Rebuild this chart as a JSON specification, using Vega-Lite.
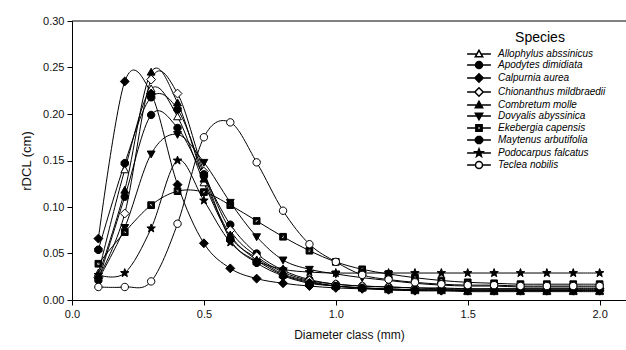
{
  "$schema": "https://vega.github.io/schema/vega-lite/v6.json",
  "width": 554,
  "height": 279,
  "autosize": {"type": "none"},
  "padding": {"left": 72, "top": 21, "right": 0, "bottom": 50},
  "config": {
    "view": {"stroke": null},
    "font": "Liberation Sans",
    "axis": {"grid": false, "domainColor": "#000", "tickColor": "#000", "labelColor": "#111", "titleColor": "#111", "labelFont": "Liberation Sans", "titleFont": "Liberation Sans", "titleFontWeight": "normal", "labelFontSize": 11, "titleFontSize": 12, "tickSize": 5, "domainWidth": 1, "tickWidth": 1, "labelFlush": false},
    "legend": {
      "orient": "none",
      "legendX": 402,
      "legendY": 10,
      "padding": 0,
      "titleFont": "Liberation Sans",
      "titleFontSize": 14,
      "titleFontWeight": "normal",
      "titleColor": "#000",
      "titleAnchor": "middle",
      "titlePadding": 4,
      "labelFont": "Liberation Sans",
      "labelFontSize": 10,
      "labelFontStyle": "italic",
      "labelColor": "#000",
      "labelOffset": 14,
      "symbolSize": 49,
      "rowPadding": -2,
      "labelLimit": 300
    }
  },
  "layer": [
    {
      "data": {
        "values": [
          {"d": 0.1, "Allophylus abssinicus": 0.029, "Apodytes dimidiata": 0.021, "Calpurnia aurea": 0.066, "Chionanthus mildbraedii": 0.024, "Combretum molle": 0.026, "Dovyalis abyssinica": 0.022, "Ekebergia capensis": 0.039, "Maytenus arbutifolia": 0.054, "Podocarpus falcatus": 0.027, "Teclea nobilis": 0.014},
          {"d": 0.2, "Allophylus abssinicus": 0.140, "Apodytes dimidiata": 0.111, "Calpurnia aurea": 0.235, "Chionanthus mildbraedii": 0.093, "Combretum molle": 0.118, "Dovyalis abyssinica": 0.078, "Ekebergia capensis": 0.073, "Maytenus arbutifolia": 0.147, "Podocarpus falcatus": 0.029, "Teclea nobilis": 0.014},
          {"d": 0.3, "Allophylus abssinicus": 0.227, "Apodytes dimidiata": 0.199, "Calpurnia aurea": 0.222, "Chionanthus mildbraedii": 0.237, "Combretum molle": 0.245, "Dovyalis abyssinica": 0.157, "Ekebergia capensis": 0.102, "Maytenus arbutifolia": 0.218, "Podocarpus falcatus": 0.077, "Teclea nobilis": 0.020},
          {"d": 0.4, "Allophylus abssinicus": 0.197, "Apodytes dimidiata": 0.185, "Calpurnia aurea": 0.124, "Chionanthus mildbraedii": 0.222, "Combretum molle": 0.212, "Dovyalis abyssinica": 0.178, "Ekebergia capensis": 0.117, "Maytenus arbutifolia": 0.205, "Podocarpus falcatus": 0.150, "Teclea nobilis": 0.082},
          {"d": 0.5, "Allophylus abssinicus": 0.126, "Apodytes dimidiata": 0.133, "Calpurnia aurea": 0.061, "Chionanthus mildbraedii": 0.138, "Combretum molle": 0.130, "Dovyalis abyssinica": 0.148, "Ekebergia capensis": 0.116, "Maytenus arbutifolia": 0.135, "Podocarpus falcatus": 0.107, "Teclea nobilis": 0.175},
          {"d": 0.6, "Allophylus abssinicus": 0.068, "Apodytes dimidiata": 0.081, "Calpurnia aurea": 0.034, "Chionanthus mildbraedii": 0.075, "Combretum molle": 0.070, "Dovyalis abyssinica": 0.105, "Ekebergia capensis": 0.102, "Maytenus arbutifolia": 0.065, "Podocarpus falcatus": 0.062, "Teclea nobilis": 0.191},
          {"d": 0.7, "Allophylus abssinicus": 0.045, "Apodytes dimidiata": 0.050, "Calpurnia aurea": 0.023, "Chionanthus mildbraedii": 0.047, "Combretum molle": 0.043, "Dovyalis abyssinica": 0.068, "Ekebergia capensis": 0.085, "Maytenus arbutifolia": 0.040, "Podocarpus falcatus": 0.042, "Teclea nobilis": 0.148},
          {"d": 0.8, "Allophylus abssinicus": 0.028, "Apodytes dimidiata": 0.032, "Calpurnia aurea": 0.018, "Chionanthus mildbraedii": 0.030, "Combretum molle": 0.027, "Dovyalis abyssinica": 0.043, "Ekebergia capensis": 0.068, "Maytenus arbutifolia": 0.026, "Podocarpus falcatus": 0.033, "Teclea nobilis": 0.096},
          {"d": 0.9, "Allophylus abssinicus": 0.020, "Apodytes dimidiata": 0.022, "Calpurnia aurea": 0.015, "Chionanthus mildbraedii": 0.021, "Combretum molle": 0.019, "Dovyalis abyssinica": 0.033, "Ekebergia capensis": 0.053, "Maytenus arbutifolia": 0.018, "Podocarpus falcatus": 0.030, "Teclea nobilis": 0.060},
          {"d": 1.0, "Allophylus abssinicus": 0.015, "Apodytes dimidiata": 0.017, "Calpurnia aurea": 0.013, "Chionanthus mildbraedii": 0.017, "Combretum molle": 0.015, "Dovyalis abyssinica": 0.028, "Ekebergia capensis": 0.041, "Maytenus arbutifolia": 0.015, "Podocarpus falcatus": 0.029, "Teclea nobilis": 0.041},
          {"d": 1.1, "Allophylus abssinicus": 0.013, "Apodytes dimidiata": 0.015, "Calpurnia aurea": 0.012, "Chionanthus mildbraedii": 0.015, "Combretum molle": 0.013, "Dovyalis abyssinica": 0.024, "Ekebergia capensis": 0.033, "Maytenus arbutifolia": 0.013, "Podocarpus falcatus": 0.029, "Teclea nobilis": 0.027},
          {"d": 1.2, "Allophylus abssinicus": 0.011, "Apodytes dimidiata": 0.014, "Calpurnia aurea": 0.011, "Chionanthus mildbraedii": 0.014, "Combretum molle": 0.012, "Dovyalis abyssinica": 0.021, "Ekebergia capensis": 0.028, "Maytenus arbutifolia": 0.012, "Podocarpus falcatus": 0.029, "Teclea nobilis": 0.022},
          {"d": 1.3, "Allophylus abssinicus": 0.010, "Apodytes dimidiata": 0.013, "Calpurnia aurea": 0.010, "Chionanthus mildbraedii": 0.013, "Combretum molle": 0.011, "Dovyalis abyssinica": 0.018, "Ekebergia capensis": 0.024, "Maytenus arbutifolia": 0.011, "Podocarpus falcatus": 0.029, "Teclea nobilis": 0.019},
          {"d": 1.4, "Allophylus abssinicus": 0.010, "Apodytes dimidiata": 0.012, "Calpurnia aurea": 0.010, "Chionanthus mildbraedii": 0.013, "Combretum molle": 0.011, "Dovyalis abyssinica": 0.016, "Ekebergia capensis": 0.021, "Maytenus arbutifolia": 0.011, "Podocarpus falcatus": 0.029, "Teclea nobilis": 0.017},
          {"d": 1.5, "Allophylus abssinicus": 0.009, "Apodytes dimidiata": 0.012, "Calpurnia aurea": 0.010, "Chionanthus mildbraedii": 0.012, "Combretum molle": 0.010, "Dovyalis abyssinica": 0.015, "Ekebergia capensis": 0.019, "Maytenus arbutifolia": 0.011, "Podocarpus falcatus": 0.029, "Teclea nobilis": 0.016},
          {"d": 1.6, "Allophylus abssinicus": 0.009, "Apodytes dimidiata": 0.012, "Calpurnia aurea": 0.010, "Chionanthus mildbraedii": 0.012, "Combretum molle": 0.010, "Dovyalis abyssinica": 0.015, "Ekebergia capensis": 0.018, "Maytenus arbutifolia": 0.011, "Podocarpus falcatus": 0.029, "Teclea nobilis": 0.016},
          {"d": 1.7, "Allophylus abssinicus": 0.009, "Apodytes dimidiata": 0.012, "Calpurnia aurea": 0.010, "Chionanthus mildbraedii": 0.012, "Combretum molle": 0.010, "Dovyalis abyssinica": 0.014, "Ekebergia capensis": 0.017, "Maytenus arbutifolia": 0.011, "Podocarpus falcatus": 0.029, "Teclea nobilis": 0.015},
          {"d": 1.8, "Allophylus abssinicus": 0.009, "Apodytes dimidiata": 0.012, "Calpurnia aurea": 0.010, "Chionanthus mildbraedii": 0.012, "Combretum molle": 0.010, "Dovyalis abyssinica": 0.014, "Ekebergia capensis": 0.017, "Maytenus arbutifolia": 0.011, "Podocarpus falcatus": 0.029, "Teclea nobilis": 0.015},
          {"d": 1.9, "Allophylus abssinicus": 0.009, "Apodytes dimidiata": 0.012, "Calpurnia aurea": 0.010, "Chionanthus mildbraedii": 0.012, "Combretum molle": 0.010, "Dovyalis abyssinica": 0.014, "Ekebergia capensis": 0.017, "Maytenus arbutifolia": 0.011, "Podocarpus falcatus": 0.029, "Teclea nobilis": 0.015},
          {"d": 2.0, "Allophylus abssinicus": 0.009, "Apodytes dimidiata": 0.012, "Calpurnia aurea": 0.010, "Chionanthus mildbraedii": 0.012, "Combretum molle": 0.010, "Dovyalis abyssinica": 0.014, "Ekebergia capensis": 0.017, "Maytenus arbutifolia": 0.011, "Podocarpus falcatus": 0.029, "Teclea nobilis": 0.015}
        ]
      },
      "transform": [
        {"fold": ["Allophylus abssinicus", "Apodytes dimidiata", "Calpurnia aurea", "Chionanthus mildbraedii", "Combretum molle", "Dovyalis abyssinica", "Ekebergia capensis", "Maytenus arbutifolia", "Podocarpus falcatus", "Teclea nobilis"], "as": ["species", "rdcl"]}
      ],
      "encoding": {
        "x": {"field": "d", "type": "quantitative", "scale": {"domain": [0, 2.1], "nice": false, "zero": true},
          "axis": {"values": [0, 0.5, 1, 1.5, 2], "format": ".1f", "title": "Diameter class (mm)", "labelPadding": 3, "titlePadding": 10}},
        "y": {"field": "rdcl", "type": "quantitative", "scale": {"domain": [0, 0.3], "nice": false},
          "axis": {"values": [0, 0.05, 0.1, 0.15, 0.2, 0.25, 0.3], "format": ".2f", "title": "rDCL (cm)", "titleFontSize": 13, "labelPadding": 3, "titlePadding": 9}}
      },
      "resolve": {"scale": {"shape": "independent", "fill": "independent"}},
      "layer": [
        {
          "mark": {"type": "line", "interpolate": "cardinal", "stroke": "#000", "strokeWidth": 1},
          "encoding": {"detail": {"field": "species"}}
        },
        {
          "mark": {"type": "point", "filled": true, "stroke": "#000", "strokeWidth": 1, "size": 55, "opacity": 1},
          "encoding": {
            "shape": {"field": "species", "type": "nominal",
              "scale": {
                "domain": ["Allophylus abssinicus", "Apodytes dimidiata", "Calpurnia aurea", "Chionanthus mildbraedii", "Combretum molle", "Dovyalis abyssinica", "Ekebergia capensis", "Maytenus arbutifolia", "Podocarpus falcatus", "Teclea nobilis"],
                "range": [
                  "M0,-1.05L1.05,0.8L-1.05,0.8Z",
                  "M1,0A1,1,0,1,1,-1,0A1,1,0,1,1,1,0Z",
                  "M0,-1.2L1.2,0L0,1.2L-1.2,0Z",
                  "M0,-1.2L1.2,0L0,1.2L-1.2,0Z",
                  "M0,-1.05L1.05,0.8L-1.05,0.8Z",
                  "M0,1.05L1.05,-0.8L-1.05,-0.8Z",
                  "M-0.9,-0.9H0.9V0.9H-0.9Z M-0.4,-0.4V0.4H0.4V-0.4Z",
                  "M-0.41,-1H0.41L1,-0.41V0.41L0.41,1H-0.41L-1,0.41V-0.41Z",
                  "M0,-1.2L0.294,-0.405L1.141,-0.371L0.476,0.155L0.705,0.971L0,0.5L-0.705,0.971L-0.476,0.155L-1.141,-0.371L-0.294,-0.405Z",
                  "M1,0A1,1,0,1,1,-1,0A1,1,0,1,1,1,0Z"
                ]
              },
              "legend": null
            },
            "fill": {"field": "species", "type": "nominal",
              "scale": {
                "domain": ["Allophylus abssinicus", "Apodytes dimidiata", "Calpurnia aurea", "Chionanthus mildbraedii", "Combretum molle", "Dovyalis abyssinica", "Ekebergia capensis", "Maytenus arbutifolia", "Podocarpus falcatus", "Teclea nobilis"],
                "range": ["#fff", "#000", "#000", "#fff", "#000", "#000", "#000", "#000", "#000", "#fff"]
              },
              "legend": null
            }
          }
        },
        {
          "transform": [{"filter": "datum.d > 5"}],
          "mark": {"type": "point", "filled": true, "stroke": "#000", "strokeWidth": 1, "size": 49, "opacity": 1},
          "encoding": {
            "shape": {"field": "species", "type": "nominal",
              "scale": {
                "domain": ["Allophylus abssinicus", "Apodytes dimidiata", "Calpurnia aurea", "Chionanthus mildbraedii", "Combretum molle", "Dovyalis abyssinica", "Ekebergia capensis", "Maytenus arbutifolia", "Podocarpus falcatus", "Teclea nobilis"],
                "range": [
                  "M-3.4,0H-0.8M0.8,0H3.4M0,-1.05L1.05,0.8L-1.05,0.8Z",
                  "M-3.4,0H-1M1,0H3.4M1,0A1,1,0,1,1,-1,0A1,1,0,1,1,1,0Z",
                  "M-3.4,0H-1.2M1.2,0H3.4M0,-1.2L1.2,0L0,1.2L-1.2,0Z",
                  "M-3.4,0H-1.2M1.2,0H3.4M0,-1.2L1.2,0L0,1.2L-1.2,0Z",
                  "M-3.4,0H-0.8M0.8,0H3.4M0,-1.05L1.05,0.8L-1.05,0.8Z",
                  "M-3.4,0H-0.8M0.8,0H3.4M0,1.05L1.05,-0.8L-1.05,-0.8Z",
                  "M-3.4,0H-0.9M0.9,0H3.4M-0.9,-0.9H0.9V0.9H-0.9Z M-0.4,-0.4V0.4H0.4V-0.4Z",
                  "M-3.4,0H-1M1,0H3.4M-0.41,-1H0.41L1,-0.41V0.41L0.41,1H-0.41L-1,0.41V-0.41Z",
                  "M-3.4,0H-1M1,0H3.4M0,-1.2L0.294,-0.405L1.141,-0.371L0.476,0.155L0.705,0.971L0,0.5L-0.705,0.971L-0.476,0.155L-1.141,-0.371L-0.294,-0.405Z",
                  "M-3.4,0H-1M1,0H3.4M1,0A1,1,0,1,1,-1,0A1,1,0,1,1,1,0Z"
                ]
              },
              "legend": {
                "title": "Species",
                "encode": {
                  "symbols": {"update": {"stroke": {"value": "#000"}, "strokeWidth": {"value": 1}, "opacity": {"value": 1}}}
                }
              }
            },
            "fill": {"field": "species", "type": "nominal",
              "scale": {
                "domain": ["Allophylus abssinicus", "Apodytes dimidiata", "Calpurnia aurea", "Chionanthus mildbraedii", "Combretum molle", "Dovyalis abyssinica", "Ekebergia capensis", "Maytenus arbutifolia", "Podocarpus falcatus", "Teclea nobilis"],
                "range": ["#fff", "#000", "#000", "#fff", "#000", "#000", "#000", "#000", "#000", "#fff"]
              },
              "legend": {
                "title": "Species",
                "encode": {
                  "symbols": {"update": {"stroke": {"value": "#000"}, "strokeWidth": {"value": 1}, "opacity": {"value": 1}}}
                }
              }
            }
          }
        }
      ]
    },
    {
      "data": {"values": [{"lo": 0, "hi": 2.1, "top": 0.3}]},
      "mark": {"type": "rule", "stroke": "#000", "strokeWidth": 1},
      "encoding": {
        "x": {"field": "lo", "type": "quantitative"},
        "x2": {"field": "hi"},
        "y": {"field": "top", "type": "quantitative"}
      }
    }
  ]
}
